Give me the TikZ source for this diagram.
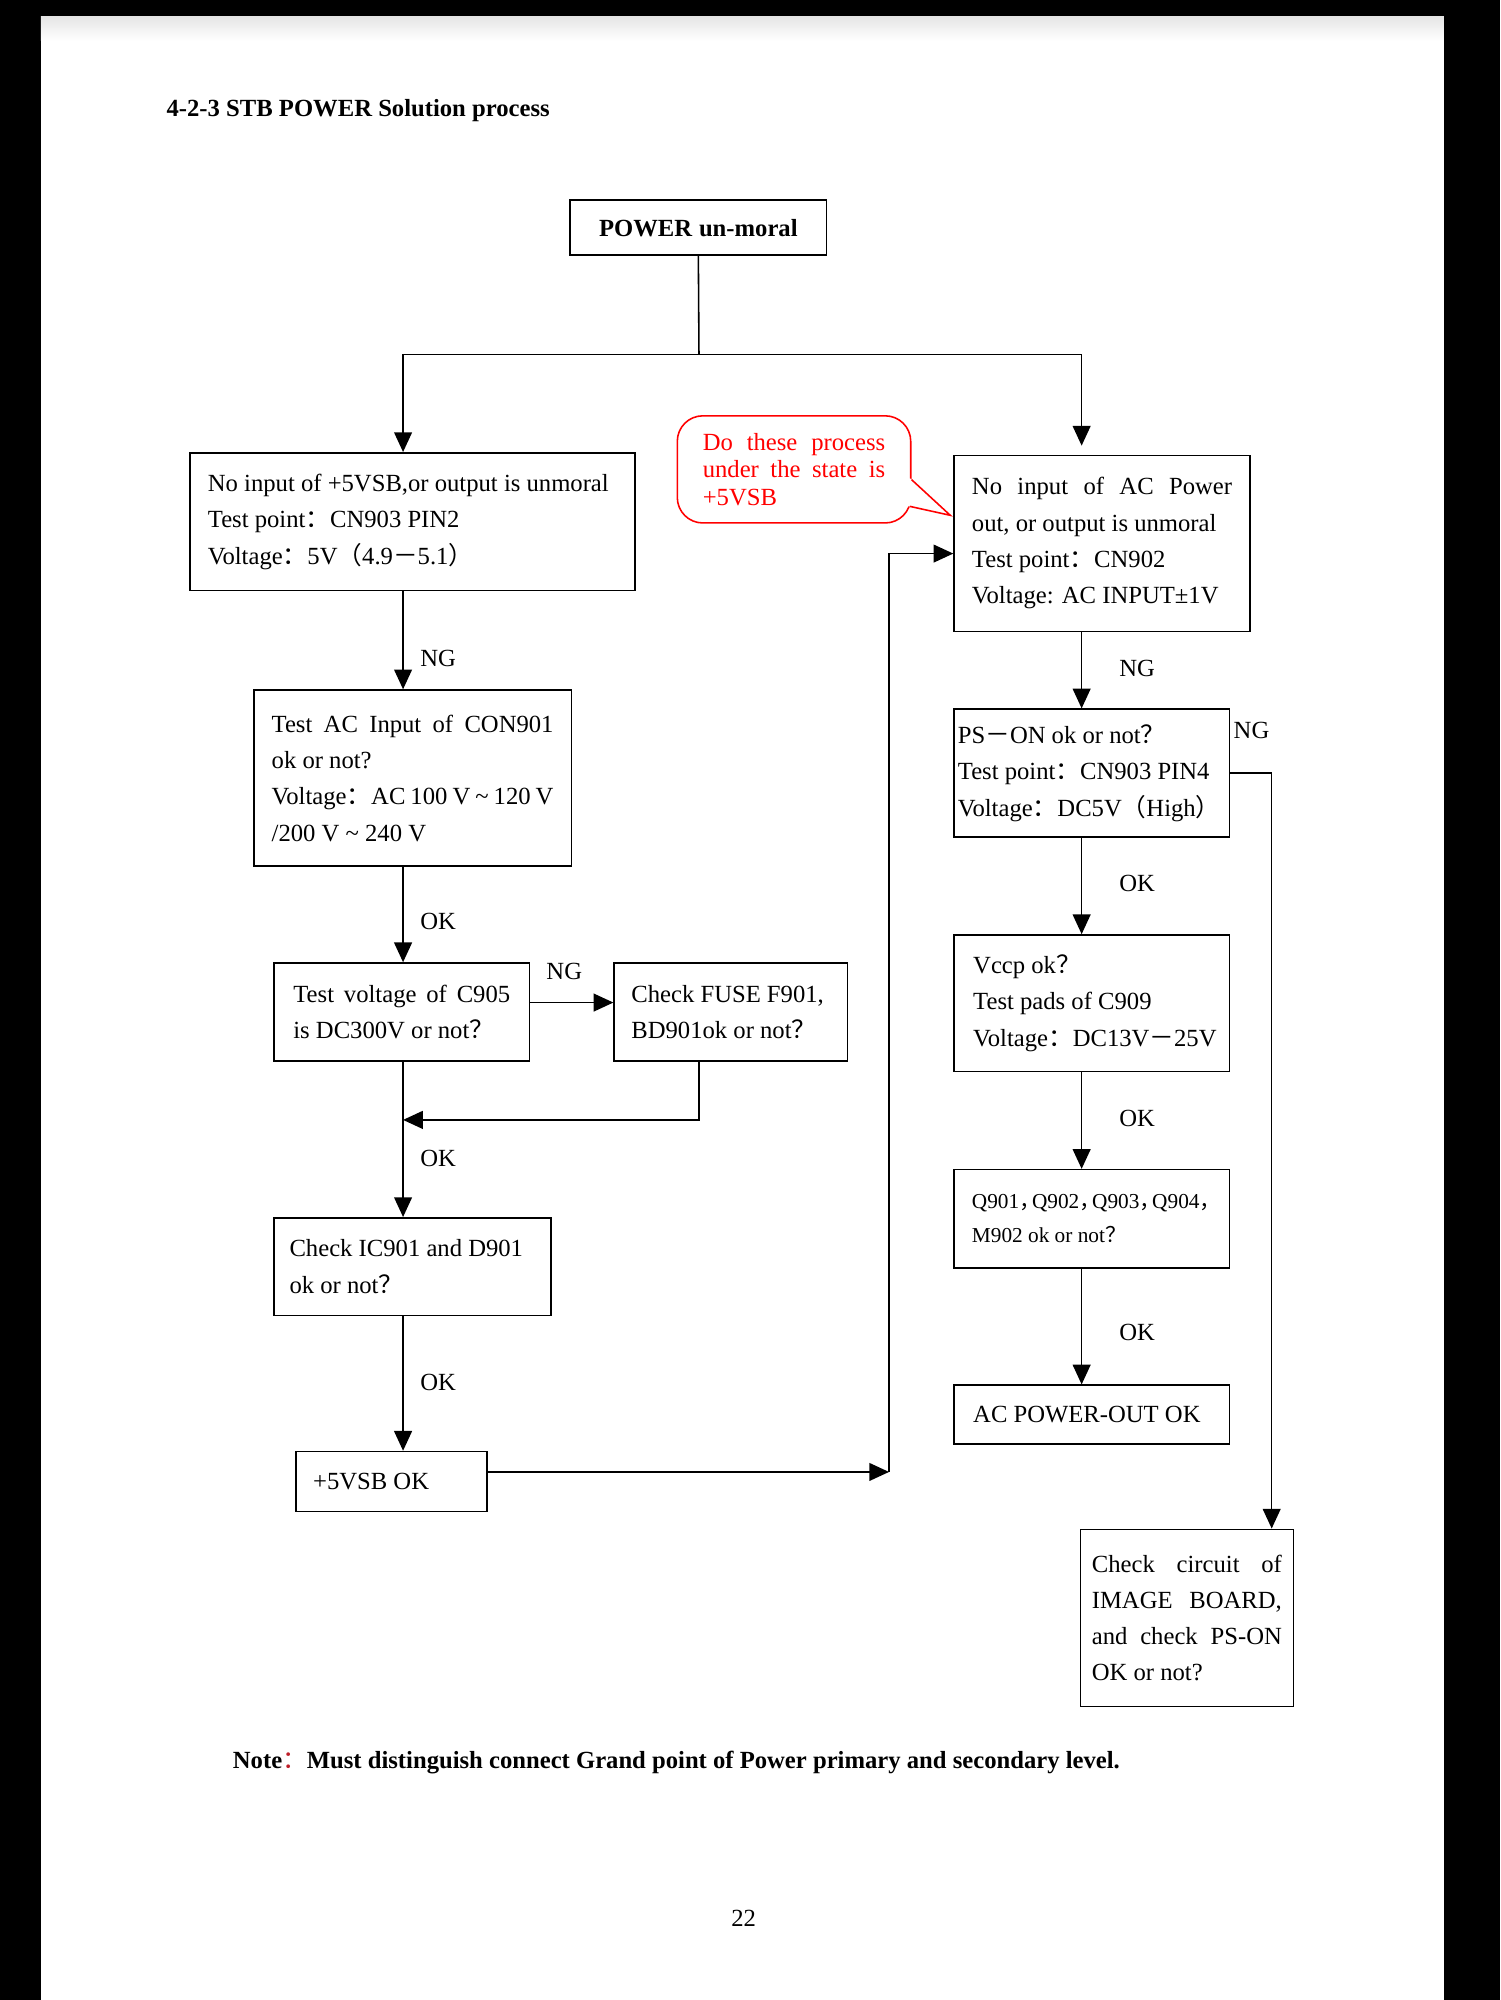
\documentclass[tikz,border=0pt]{standalone}
\usepackage{fontspec}
\setmainfont{Liberation Serif}
\newfontfamily\cjk{Noto Sans CJK SC}
\usetikzlibrary{positioning, arrows.meta, calc}
\newcommand{\zh}[1]{{\cjk #1}}
\newcommand{\zc}{\makebox[0.6em][l]{\cjk ，}}
\newcommand{\jline}[1]{\makebox[\linewidth][s]{#1}}
\definecolor{notered}{RGB}{190,30,40}
\tikzset{
    >={Triangle[length=3.1mm, width=2.8mm]}, % filled triangle heads
    flowbox/.style={draw, rectangle, inner xsep=2.8mm, inner ysep=1mm, align=left,
        font=\fontsize{11pt}{16.2pt}\selectfont,
        execute at begin node={\spaceskip=0pt\xspaceskip=0pt}}, % the process boxes, normal word spaces
    lbl/.style={inner sep=0pt, font=\fontsize{11pt}{13pt}\selectfont}, % NG / OK marks
}
\begin{document}
\begin{tikzpicture}[
                        x=0.2mm, y=-0.2mm, line width=0.7pt,
                        memobox/.style={draw=red, rounded corners=4mm, text=red, inner xsep=4mm,
                            align=left, font=\fontsize{11pt}{12.2pt}\selectfont,
                            execute at begin node={\spaceskip=0pt\xspaceskip=0pt}},
                    ]
    % page and scanner border
    \useasboundingbox (0,0) rectangle (1176,1568);
    \fill[black] (0,0) rectangle (1176,13);
    \fill[black] (0,0) rectangle (32,1568);
    \fill[black] (1132,0) rectangle (1176,1568);
    \shade[top color=gray!20, bottom color=white] (32,13) rectangle (1132,32);

    \node[anchor=west, inner xsep=0pt, font=\bfseries\fontsize{11pt}{13pt}\selectfont] (title) at (130,87) {4-2-3 STB POWER Solution process};

    % boxes
    \node[flowbox, text width=34.6mm, minimum height=8.6mm, align=center,
        font=\bfseries\fontsize{11pt}{13pt}\selectfont] (pwr) at (547.5,178.5) {POWER un-moral};
    \node[flowbox, text width=64.2mm, minimum height=21.6mm] (nosb) at (323.5,409)
        {No input of +5VSB,or output is unmoral\\Test point\zh{：}CN903 PIN2\\Voltage\zh{：}5V\zh{（}4.9\zh{－}5.1\zh{）}};
    \node[flowbox, text width=40.8mm, minimum height=27.6mm] (noac) at (864,426)
        {\jline{No input of AC Power}\\out, or output is unmoral\\Test point\zh{：}CN902\\Voltage: AC INPUT±1V};
    \node[flowbox, inner xsep=0.6mm, text width=42mm, minimum height=20mm] (pson) at (856,606)
        {PS\zh{－}ON ok or not\zh{？}\\Test point\zh{：}CN903 PIN4\\Voltage\zh{：}DC5V\zh{（}High\zh{）}};
    \node[flowbox, inner xsep=3mm, text width=37.2mm, minimum height=21.4mm] (vccp) at (856,786.5)
        {Vccp ok\zh{？}\\Test pads of C909\\Voltage\zh{：}DC13V\zh{－}25V};
    \node[flowbox, text width=37.6mm, minimum height=15.4mm, font=\fontsize{9.5pt}{15.3pt}\selectfont] (qchk) at (856,955.5)
        {Q901\zc Q902\zc Q903\zc Q904\zc\\M902 ok or not\zh{？}};
    \node[flowbox, inner xsep=3mm, text width=37.2mm, minimum height=9.2mm] (acok) at (856,1109) {AC POWER-OUT OK};
    \node[flowbox, inner xsep=1.8mm, text width=29.8mm, minimum height=27.8mm] (image) at (930.5,1268.5)
        {\jline{Check circuit of}\\\jline{IMAGE BOARD,}\\\jline{and check PS-ON}\\OK or not?};
    \node[flowbox, text width=44.2mm, minimum height=27.6mm] (acin) at (323.5,610)
        {\jline{Test AC Input of CON901}\\ok or not?\\\jline{Voltage\zh{：}AC 100 V \textasciitilde{} 120 V}\\/200 V \textasciitilde{} 240 V};
    \node[flowbox, inner xsep=3mm, text width=34mm, minimum height=15.4mm] (c905) at (315,793.5)
        {\jline{Test voltage of C905}\\is DC300V or not\zh{？}};
    \node[flowbox, inner xsep=2.7mm, text width=31.2mm, minimum height=15.4mm] (fuse) at (573,793.5)
        {Check FUSE F901,\\BD901ok or not\zh{？}};
    \node[flowbox, inner xsep=2.4mm, text width=38.6mm, minimum height=15.3mm] (ic901) at (323.5,993)
        {Check IC901 and D901\\ok or not\zh{？}};
    \node[flowbox, inner xsep=2.7mm, text width=24.6mm, minimum height=9.4mm] (vsbok) at (307,1161.5) {+5VSB OK};

    % red remark
    \node[memobox, text width=28.6mm, minimum height=16.8mm] (memo) at (622.5,368)
        {\jline{Do these process}\\\jline{under the state is}\\+5VSB};
    \coordinate (tip) at (745,404);
    \fill[white] ($(memo.east)+(-6,6)$) -- ($(memo.east)+(2,8)$) -- (tip) -- ($(memo.east)+(-2,29)$) -- ($(memo.east)+(-9,28)$) -- cycle;
    \draw[red] ($(memo.east)+(0,8)$) -- (tip) -- ($(memo.east)+(-1.3,29)$);

    % connectors
    \coordinate (lt) at (316,0);
    \coordinate (rt) at (848,0);
    \coordinate (split) at (548,278);
    \coordinate (merge) at (316,878);
    \coordinate (jx) at (548,0);
    \coordinate (ij) at (0,786);
    \coordinate (ngx) at (997,0);
    \coordinate (bend) at (697,1154);

    \draw (pwr.south) -- (split);
    \draw[->] (split) -| (nosb.north -| lt);
    \draw[->, shorten >=1.4mm] (split) -| (noac.north -| rt);
    \path[->]
    (nosb.south -| lt) edge node[lbl, pos=0.69, right=2.6mm] {NG} (acin.north -| lt)
    (acin.south -| lt) edge node[lbl, pos=0.57, right=2.6mm] {OK} (c905.north -| lt)
    (c905.south -| lt) edge node[lbl, pos=0.62, right=2.6mm] {OK} (ic901.north -| lt)
    (ic901.south -| lt) edge node[lbl, pos=0.49, right=2.6mm] {OK} (vsbok.north -| lt)
    (c905.east |- ij) edge node[lbl, pos=0.41, above=3.5mm] {NG} (fuse.west |- ij)
    (noac.south -| rt) edge node[lbl, pos=0.48, right=5.8mm] {NG} (pson.north -| rt)
    (pson.south -| rt) edge node[lbl, pos=0.48, right=5.8mm] {OK} (vccp.north -| rt)
    (vccp.south -| rt) edge node[lbl, pos=0.48, right=5.8mm] {OK} (qchk.north -| rt)
    (qchk.south -| rt) edge node[lbl, pos=0.55, right=5.8mm] {OK} (acok.north -| rt);
    \draw[->] (fuse.south -| jx) |- (merge);
    \draw[->] (pson.east) -| (image.north -| ngx)
        node[lbl, at start, anchor=south west, xshift=0.4mm, yshift=5.3mm] {NG};
    \draw[->] (vsbok.east |- bend) -- (bend);
    \draw[->] (bend) |- ($(noac.west)+(0,8)$);

    \node[anchor=west, inner xsep=0pt, font=\bfseries\fontsize{11pt}{13pt}\selectfont] (note) at (182,1382)
        {Note{\mdseries\color{notered}\zh{：}}Must distinguish connect Grand point of Power primary and secondary level.};
    \node[font=\fontsize{11pt}{13pt}\selectfont] (pageno) at (583,1504) {22};
\end{tikzpicture}
\end{document}
